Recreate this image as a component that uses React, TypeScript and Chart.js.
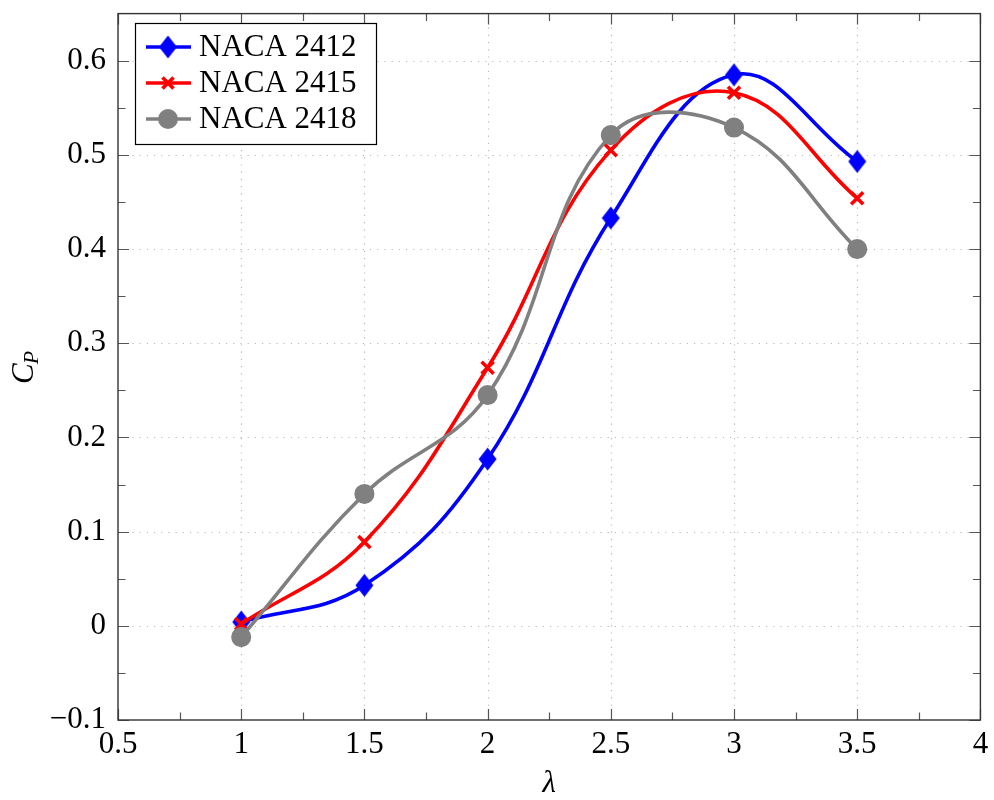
import { useEffect, useRef } from 'react';
import { Chart, registerables } from 'chart.js';

Chart.register(...registerables);

// Tip speed ratio (lambda) and power coefficient per airfoil
const lambdaValues = [1, 1.5, 2, 2.5, 3, 3.5];
const naca2412 = [0.004, 0.043, 0.177, 0.433, 0.585, 0.493];
const naca2415 = [0.002, 0.089, 0.274, 0.505, 0.566, 0.454];
const naca2418 = [-0.012, 0.14, 0.245, 0.521, 0.529, 0.4];
const seriesNames = ['NACA 2412', 'NACA 2415', 'NACA 2418'];

const xAxisRange = [0.5, 4];
const xAxisStep = 0.5;
const yAxisRange = [-0.1, 0.65];
const yAxisStep = 0.1;

const FONT = '"Liberation Serif", "Times New Roman", serif';
const BLUE = '#0000ff';
const RED = '#ff0000';
const GRAY = '#808080';
const LINE_W = 3.6;

function makeDiamond(color: string): HTMLCanvasElement {
  const c = document.createElement('canvas');
  c.width = 19;
  c.height = 24;
  const g = c.getContext('2d')!;
  g.fillStyle = color;
  g.beginPath();
  g.moveTo(9.5, 0.5);
  g.lineTo(18.5, 12);
  g.lineTo(9.5, 23.5);
  g.lineTo(0.5, 12);
  g.closePath();
  g.fill();
  return c;
}

function drawCross(ctx: CanvasRenderingContext2D, x: number, y: number, r: number, color: string) {
  ctx.save();
  ctx.strokeStyle = color;
  ctx.lineWidth = 3.6;
  ctx.beginPath();
  ctx.moveTo(x - r, y - r);
  ctx.lineTo(x + r, y + r);
  ctx.moveTo(x - r, y + r);
  ctx.lineTo(x + r, y - r);
  ctx.stroke();
  ctx.restore();
}

const framePlugin = {
  id: 'frame',
  beforeDatasetsDraw(chart: any) {
    const { ctx, chartArea: a, scales } = chart;
    const x = scales.x;
    const y = scales.y;
    ctx.save();
    ctx.strokeStyle = '#b8b8b8';
    ctx.lineWidth = 1.2;
    ctx.setLineDash([1.2, 6]);
    ctx.beginPath();
    x.ticks.forEach((t: any) => {
      const px = Math.round(x.getPixelForValue(t.value)) + 0.5;
      if (px > a.left + 1 && px < a.right - 1) {
        ctx.moveTo(px, a.bottom);
        ctx.lineTo(px, a.top);
      }
    });
    y.ticks.forEach((t: any) => {
      const py = Math.round(y.getPixelForValue(t.value)) + 0.5;
      if (py > a.top + 1 && py < a.bottom - 1) {
        ctx.moveTo(a.left, py);
        ctx.lineTo(a.right, py);
      }
    });
    ctx.stroke();
    ctx.restore();
  },
  afterDatasetsDraw(chart: any) {
    const { ctx, chartArea: a, scales } = chart;
    const x = scales.x;
    const y = scales.y;
    const major = 11;
    const minor = 7.5;
    ctx.save();
    ctx.strokeStyle = '#555';
    ctx.lineWidth = 1.2;
    ctx.beginPath();
    const xt = x.ticks.map((t: any) => t.value);
    const yt = y.ticks.map((t: any) => t.value);
    const xMinor = xt.slice(1).map((v: number, i: number) => (v + xt[i]) / 2);
    const yMinor = yt.slice(1).map((v: number, i: number) => (v + yt[i]) / 2);
    const vTick = (v: number, len: number) => {
      const px = Math.round(x.getPixelForValue(v)) + 0.5;
      ctx.moveTo(px, a.bottom);
      ctx.lineTo(px, a.bottom - len);
      ctx.moveTo(px, a.top);
      ctx.lineTo(px, a.top + len);
    };
    const hTick = (v: number, len: number) => {
      const py = Math.round(y.getPixelForValue(v)) + 0.5;
      ctx.moveTo(a.left, py);
      ctx.lineTo(a.left + len, py);
      ctx.moveTo(a.right, py);
      ctx.lineTo(a.right - len, py);
    };
    xt.forEach((v: number) => vTick(v, major));
    xMinor.forEach((v: number) => vTick(v, minor));
    yt.forEach((v: number) => hTick(v, major));
    yMinor.forEach((v: number) => hTick(v, minor));
    ctx.stroke();

    ctx.strokeStyle = '#333';
    ctx.lineWidth = 1.4;
    ctx.strokeRect(a.left, a.top, a.right - a.left, a.bottom - a.top);
    ctx.restore();
  },
  afterDraw(chart: any) {
    const { ctx, chartArea: a } = chart;
    ctx.save();
    ctx.fillStyle = '#000';

    // x-axis title
    ctx.font = `italic 31px ${FONT}`;
    ctx.textAlign = 'center';
    ctx.textBaseline = 'alphabetic';
    ctx.fillText('λ', (a.left + a.right) / 2, 792);

    // y-axis title C_P, rotated
    ctx.save();
    ctx.translate(33, 384);
    ctx.rotate(-Math.PI / 2);
    ctx.textAlign = 'left';
    ctx.font = `italic 31px ${FONT}`;
    ctx.fillText('C', 0, 0);
    const wC = ctx.measureText('C').width;
    ctx.font = `italic 22px ${FONT}`;
    ctx.fillText('P', wC - 1, 4.5);
    ctx.restore();

    // legend
    const box = { x: 135.5, y: 23.5, w: 241, h: 121 };
    ctx.fillStyle = '#fff';
    ctx.fillRect(box.x, box.y, box.w, box.h);
    ctx.strokeStyle = '#000';
    ctx.lineWidth = 1.2;
    ctx.strokeRect(box.x, box.y, box.w, box.h);
    const rows = [47, 83, 119];
    const colors = [BLUE, RED, GRAY];
    rows.forEach((ry, i) => {
      ctx.strokeStyle = colors[i];
      ctx.lineWidth = LINE_W;
      ctx.beginPath();
      ctx.moveTo(146, ry);
      ctx.lineTo(191, ry);
      ctx.stroke();
      if (i === 0) {
        const d = diamondBlue;
        ctx.drawImage(d, 168 - d.width / 2, ry - d.height / 2);
      } else if (i === 1) {
        drawCross(ctx, 168, ry, 5.5, RED);
      } else {
        ctx.fillStyle = GRAY;
        ctx.beginPath();
        ctx.arc(168, ry, 10, 0, Math.PI * 2);
        ctx.fill();
      }
      ctx.fillStyle = '#000';
      ctx.font = `31px ${FONT}`;
      ctx.textAlign = 'left';
      ctx.textBaseline = 'middle';
      ctx.fillText(seriesNames[i], 199, ry + 1);
    });
    ctx.restore();
  },
};

let diamondBlue: HTMLCanvasElement;

const toPoints = (ys: number[]) => lambdaValues.map((v, i) => ({ x: v, y: ys[i] }));

export default function App() {
  const canvasRef = useRef<HTMLCanvasElement | null>(null);

  useEffect(() => {
    document.body.style.margin = '0';
    diamondBlue = makeDiamond(BLUE);
    const canvas = canvasRef.current!;
    const chart = new Chart(canvas, {
      type: 'line',
      data: {
        datasets: [
          {
            label: seriesNames[0],
            data: toPoints(naca2412),
            borderColor: BLUE,
            backgroundColor: BLUE,
            borderWidth: LINE_W,
            pointStyle: diamondBlue,
            pointRadius: 10,
            tension: 0.4,
            order: 3,
          },
          {
            label: seriesNames[1],
            data: toPoints(naca2415),
            borderColor: RED,
            backgroundColor: RED,
            borderWidth: LINE_W,
            pointStyle: 'crossRot',
            pointRadius: 8.5,
            pointBorderWidth: 3.6,
            tension: 0.4,
            order: 2,
          },
          {
            label: seriesNames[2],
            data: toPoints(naca2418),
            borderColor: GRAY,
            backgroundColor: GRAY,
            borderWidth: LINE_W,
            pointStyle: 'circle',
            pointRadius: 9.3,
            pointBorderWidth: 1.5,
            tension: 0.4,
            order: 1,
          },
        ],
      },
      options: {
        animation: false,
        responsive: false,
        devicePixelRatio: 1,
        layout: { padding: { top: 8, right: 13, left: 0, bottom: 0 } },
        plugins: { legend: { display: false }, tooltip: { enabled: false } },
        events: [],
        scales: {
          x: {
            type: 'linear',
            min: xAxisRange[0],
            max: xAxisRange[1],
            grid: { display: false, drawTicks: false },
            border: { display: false },
            ticks: {
              stepSize: xAxisStep,
              includeBounds: false,
              padding: 6,
              color: '#000',
              font: { family: FONT, size: 31 },
              maxRotation: 0,
              autoSkip: false,
              callback: (v: any) => String(Math.round(Number(v) * 10) / 10),
            },
            afterFit: (s: any) => {
              s.height = 80;
              s.paddingLeft = 0;
              s.paddingRight = 0;
            },
          },
          y: {
            type: 'linear',
            min: yAxisRange[0],
            max: yAxisRange[1],
            grid: { display: false, drawTicks: false },
            border: { display: false },
            ticks: {
              stepSize: yAxisStep,
              includeBounds: false,
              padding: 12,
              color: '#000',
              font: { family: FONT, size: 31 },
              autoSkip: false,
              callback: (v: any) => {
                const n = Math.round(Number(v) * 10) / 10;
                return n < 0 ? '\u2212' + String(-n) : String(n);
              },
            },
            afterFit: (s: any) => {
              s.width = 118;
              s.paddingTop = 0;
              s.paddingBottom = 0;
            },
          },
        },
      },
      plugins: [framePlugin],
    } as any);
    return () => chart.destroy();
  }, []);

  return (
    <div style={{ width: 994, height: 800, position: 'relative' }}>
      <canvas ref={canvasRef} width={994} height={800} style={{ display: 'block' }} />
    </div>
  );
}
